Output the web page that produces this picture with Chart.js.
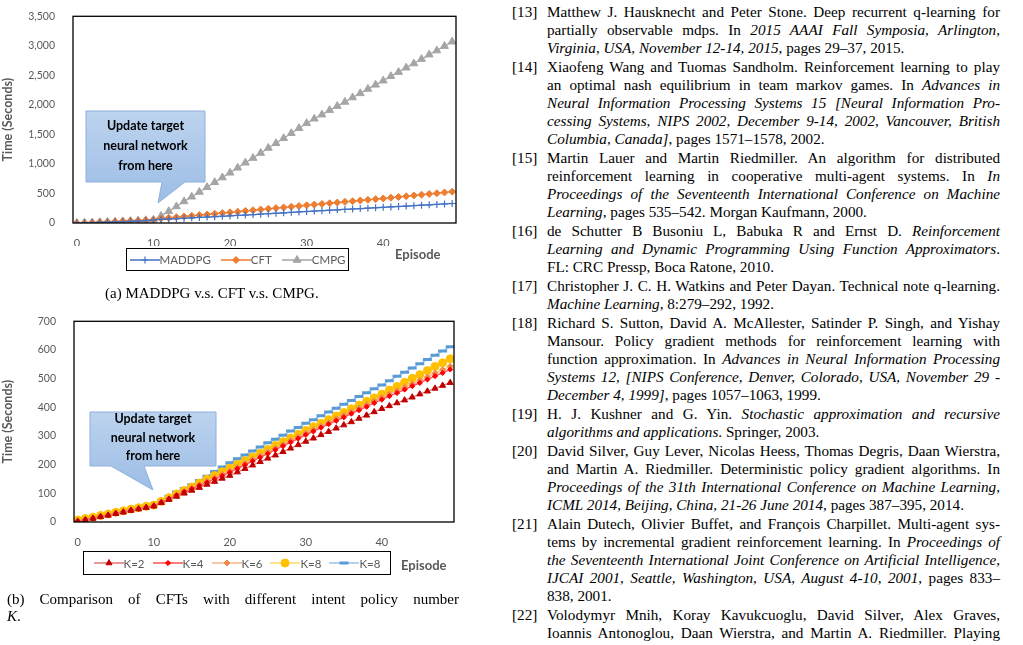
<!DOCTYPE html>
<html><head><meta charset="utf-8">
<script src="https://cdn.jsdelivr.net/npm/chart.js@4"></script>
<style>
body{margin:0;width:1023px;height:645px;overflow:hidden;background:#fff;position:relative;font-family:"Liberation Serif",serif}
.abs{position:absolute}
.legend{position:absolute;border:1.3px solid #000;display:flex;align-items:center;justify-content:center;gap:10px;font:11.5px Lato,sans-serif;color:#595959;box-sizing:border-box}
.legend span{display:flex;align-items:center}
.ep{position:absolute;font:bold 13px Lato,sans-serif;color:#595959}
.cap{position:absolute;font-size:15px;color:#000}
.call{position:absolute;font:bold 12.5px Lato,sans-serif;color:#000;text-align:center;line-height:20px}
#refs{position:absolute;left:512px;top:3px;width:488px;font-size:15.2px;color:#000}
.ref{position:relative;padding-left:35px;margin-bottom:1px}
.ref .n{position:absolute;left:0;top:0}
.ln{height:18px;line-height:18px;text-align:justify;text-align-last:justify;white-space:nowrap;overflow:visible}
.ln.e{text-align-last:left}
</style></head><body>
<canvas id="ca" class="abs" style="left:0;top:0" width="470" height="246"></canvas>
<canvas id="cb" class="abs" style="left:0;top:305px" width="470" height="245"></canvas>
<svg class="abs" style="left:0;top:0" width="470" height="645">
<defs><linearGradient id="g" x1="0" y1="0" x2="0" y2="1"><stop offset="0" stop-color="#bcd3ee"/><stop offset="1" stop-color="#9dbde6"/></linearGradient></defs>
<path d="M86 111 H205 V182 H185 L158 203 L162 182 H86 Z" fill="url(#g)" stroke="#8fb0dc"/>
<path d="M90 412 H216 V466 H144 L153 490 L111 466 H90 Z" fill="url(#g)" stroke="#8fb0dc"/>
</svg>
<div class="call" style="left:86px;top:116px;width:119px">Update target<br>neural network<br>from here</div>
<div class="call" style="left:90px;top:410px;width:126px;line-height:18.5px">Update target<br>neural network<br>from here</div>
<div id="la" class="legend" style="left:126px;top:248px;width:223px;height:23px"></div>
<div class="ep" style="left:395px;top:246px">Episode</div>
<div class="cap" style="left:105px;top:285px">(a) MADDPG v.s. CFT v.s. CMPG.</div>
<div id="lb" class="legend" style="left:83px;top:551px;width:308px;height:24px;gap:8px"></div>
<div class="ep" style="left:401px;top:557px">Episode</div>
<div class="cap" style="left:7px;top:590px;width:452px;line-height:17px"><div class="ln">(b) Comparison of CFTs with different intent policy number</div><div><i>K</i>.</div></div>
<div id="refs"></div>
<script>
const episodes = Array.from({length: 50}, (_, i) => i);
const xTicks = [0, 10, 20, 30, 40];
const yTicksA = [0, 500, 1000, 1500, 2000, 2500, 3000, 3500];
const yTicksB = [0, 100, 200, 300, 400, 500, 600, 700];

const maddpg = [0,3,6,10,14,18,23,28,34,40,48,60,67,73,80,87,94,101,107,114,120,128,135,143,150,158,165,173,180,188,195,202,209,216,223,230,237,244,251,258,265,272,279,286,294,301,308,315,323,330];
const cft = [0,5,10,16,21,27,33,38,44,49,55,75,87,98,110,122,134,145,157,168,180,192,204,216,228,240,252,264,276,288,300,312,323,335,346,358,369,381,392,404,415,428,441,453,466,479,492,504,517,530];
const cmpg = [0,4,8,12,17,22,27,33,39,45,55,120,200,280,365,445,525,605,690,770,850,935,1020,1100,1185,1270,1350,1435,1520,1605,1690,1765,1835,1910,1980,2050,2125,2195,2270,2340,2410,2485,2555,2630,2700,2775,2850,2920,2995,3070];

const k2 = [2,7,12,18,23,29,34,40,45,50,55,67,78,89,100,110,120,131,141,152,162,174,186,198,210,222,233,245,257,269,281,292,304,315,327,338,349,361,372,384,395,405,415,425,435,446,456,466,476,486];
const k4 = [3,8,13,19,24,30,35,41,46,51,56,69,81,93,105,116,127,138,150,161,173,186,199,212,225,238,252,265,278,291,304,316,329,341,353,365,378,390,402,415,427,439,450,462,474,485,497,509,520,532];
const k6 = [4,9,14,20,25,31,36,42,47,52,57,70,82,95,107,118,130,142,154,166,178,191,204,218,231,244,257,270,284,297,310,322,335,347,360,372,384,397,409,422,434,446,458,470,482,494,506,519,531,543];
const k8a = [7,12,17,23,28,34,39,45,50,55,59,72,85,98,110,122,136,149,162,175,188,201,214,227,240,253,267,280,293,306,319,332,344,357,370,382,395,408,421,433,446,460,473,487,501,514,528,542,555,569];
const k8b = [5,10,15,21,27,33,38,44,50,55,60,75,90,105,117,130,145,160,176,192,207,221,234,248,262,276,289,303,317,330,344,357,371,384,397,411,424,438,451,465,478,493,508,522,537,552,567,582,596,611];

const pts = arr => arr.map((v, i) => ({x: episodes[i], y: v}));
const ds = (label, data, line, point, style, r, extra) => Object.assign({
  label, data: pts(data), borderColor: line, backgroundColor: point, pointBorderColor: point,
  pointStyle: style, pointRadius: r, borderWidth: 1.3, pointBorderWidth: 1
}, extra || {});

const setA = [
  ds('MADDPG', maddpg, '#4472c4', '#4472c4', 'cross', 3.5, {pointBorderWidth: 1.2}),
  ds('CFT', cft, '#ed7d31', '#ed7d31', 'rectRot', 3.5),
  ds('CMPG', cmpg, '#a5a5a5', '#a5a5a5', 'triangle', 4.5)
];
const setB = [
  ds('K=2', k2, '#e57373', '#c00000', 'triangle', 3.5),
  ds('K=4', k4, '#ff5050', '#ff0000', 'rectRot', 2.6),
  ds('K=6', k6, '#f8b58a', '#f08a4b', 'rectRot', 3),
  ds('K=8', k8a, '#ffd966', '#ffc000', 'circle', 4),
  ds('K=8', k8b, '#9dc3e6', '#5b9bd5', 'line', 4.5, {pointBorderWidth: 3})
];

const frame = {id: 'frame', afterDraw(c) {
  const a = c.chartArea, x = c.ctx;
  x.save(); x.strokeStyle = '#000'; x.lineWidth = 1.3;
  x.strokeRect(a.left, a.top, a.right - a.left, a.bottom - a.top); x.restore();
}};

function make(id, sets, yTicks, yMax, pad, yw, xh) {
  new Chart(document.getElementById(id), {
    type: 'line',
    data: {datasets: sets},
    plugins: [frame],
    options: {
      responsive: false, animation: false,
      layout: {padding: pad},
      plugins: {legend: {display: false}, tooltip: {enabled: false}},
      scales: {
        x: {type: 'linear', min: -0.5, max: 49.5, grid: {display: false}, border: {display: false},
          afterBuildTicks: s => { s.ticks = xTicks.map(v => ({value: v})); },
          afterFit: s => { s.height = xh; },
          ticks: {color: '#595959', font: {family: 'Lato', size: 11}, padding: 6}},
        y: {min: 0, max: yMax, grid: {display: false}, border: {display: false},
          afterBuildTicks: s => { s.ticks = yTicks.map(v => ({value: v})); },
          afterFit: s => { s.width = yw; },
          title: {display: true, text: 'Time (Seconds)', color: '#595959', font: {family: 'Lato', size: 12.5, weight: 'bold'}, padding: 0},
          ticks: {color: '#595959', font: {family: 'Lato', size: 10.5}, padding: 10}}
      }
    }
  });
}
make('ca', setA, yTicksA, 3500, {top: 11, right: 14, left: 0, bottom: 0}, 73, 23);
make('cb', setB, yTicksB, 700, {top: 12, right: 16, left: 0, bottom: 0}, 74, 28);

function legend(id, sets) {
  const box = document.getElementById(id);
  sets.forEach(d => {
    const sp = document.createElement('span');
    const cv = document.createElement('canvas');
    cv.width = 30; cv.height = 14;
    const x = cv.getContext('2d');
    x.strokeStyle = d.borderColor; x.lineWidth = 1.5;
    x.beginPath(); x.moveTo(0, 7); x.lineTo(30, 7); x.stroke();
    x.fillStyle = d.backgroundColor; x.strokeStyle = d.pointBorderColor; x.lineWidth = d.pointBorderWidth;
    Chart.helpers.drawPoint(x, {pointStyle: d.pointStyle, radius: d.pointRadius, borderWidth: d.pointBorderWidth}, 15, 7);
    sp.appendChild(cv);
    sp.appendChild(document.createTextNode(d.label));
    box.appendChild(sp);
  });
}
legend('la', setA); legend('lb', setB);

const refs = [
 ['13', ['Matthew J. Hausknecht and Peter Stone. Deep recurrent q-learning for', 'partially observable mdps. In <i>2015 AAAI Fall Symposia, Arlington,</i>', '<i>Virginia, USA, November 12-14, 2015</i>, pages 29–37, 2015.']],
 ['14', ['Xiaofeng Wang and Tuomas Sandholm. Reinforcement learning to play', 'an optimal nash equilibrium in team markov games. In <i>Advances in</i>', '<i>Neural Information Processing Systems 15 [Neural Information Pro-</i>', '<i>cessing Systems, NIPS 2002, December 9-14, 2002, Vancouver, British</i>', '<i>Columbia, Canada]</i>, pages 1571–1578, 2002.']],
 ['15', ['Martin Lauer and Martin Riedmiller. An algorithm for distributed', 'reinforcement learning in cooperative multi-agent systems. In <i>In</i>', '<i>Proceedings of the Seventeenth International Conference on Machine</i>', '<i>Learning</i>, pages 535–542. Morgan Kaufmann, 2000.']],
 ['16', ['de Schutter B Busoniu L, Babuka R and Ernst D. <i>Reinforcement</i>', '<i>Learning and Dynamic Programming Using Function Approximators</i>.', 'FL: CRC Pressp, Boca Ratone, 2010.']],
 ['17', ['Christopher J. C. H. Watkins and Peter Dayan. Technical note q-learning.', '<i>Machine Learning</i>, 8:279–292, 1992.']],
 ['18', ['Richard S. Sutton, David A. McAllester, Satinder P. Singh, and Yishay', 'Mansour. Policy gradient methods for reinforcement learning with', 'function approximation. In <i>Advances in Neural Information Processing</i>', '<i>Systems 12, [NIPS Conference, Denver, Colorado, USA, November 29 -</i>', '<i>December 4, 1999]</i>, pages 1057–1063, 1999.']],
 ['19', ['H. J. Kushner and G. Yin. <i>Stochastic approximation and recursive</i>', '<i>algorithms and applications</i>. Springer, 2003.']],
 ['20', ['David Silver, Guy Lever, Nicolas Heess, Thomas Degris, Daan Wierstra,', 'and Martin A. Riedmiller. Deterministic policy gradient algorithms. In', '<i>Proceedings of the 31th International Conference on Machine Learning,</i>', '<i>ICML 2014, Beijing, China, 21-26 June 2014</i>, pages 387–395, 2014.']],
 ['21', ['Alain Dutech, Olivier Buffet, and François Charpillet. Multi-agent sys-', 'tems by incremental gradient reinforcement learning. In <i>Proceedings of</i>', '<i>the Seventeenth International Joint Conference on Artificial Intelligence,</i>', '<i>IJCAI 2001, Seattle, Washington, USA, August 4-10, 2001</i>, pages 833–', '838, 2001.']],
 ['22', ['Volodymyr Mnih, Koray Kavukcuoglu, David Silver, Alex Graves,', 'Ioannis Antonoglou, Daan Wierstra, and Martin A. Riedmiller. Playing', 'atari with deep reinforcement learning. <i>CoRR</i>, abs/1312.5602, 2013.']]
];
document.getElementById('refs').innerHTML = refs.map(([n, lines]) =>
  `<div class="ref"><span class="n">[${n}]</span>` +
  lines.map((l, i) => `<div class="ln${i === lines.length - 1 ? ' e' : ''}">${l}</div>`).join('') + '</div>').join('');
</script>
</body></html>
